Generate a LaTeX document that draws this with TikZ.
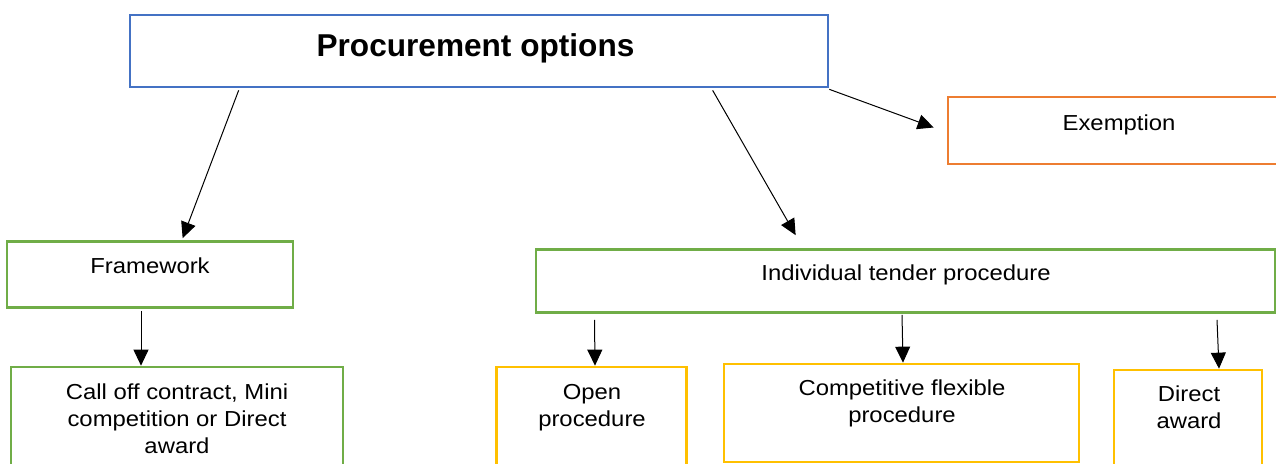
\documentclass[tikz,border=0pt]{standalone}
\usepackage{fontspec}
\setmainfont[FakeStretch=1.1]{Liberation Sans}
\newfontfamily\titlefont[FakeStretch=1.0]{Liberation Sans}
\usetikzlibrary{arrows.meta}
\definecolor{cblue}{HTML}{4472C4}
\definecolor{corange}{HTML}{ED7D31}
\definecolor{cgreen}{HTML}{70AD47}
\definecolor{cyellow}{HTML}{FFC000}
\begin{document}
\begin{tikzpicture}[x=1pt,y=-1pt,
  box/.style={draw=#1, line width=2.7pt, inner sep=0pt, fill=white},
  txt/.style={inner sep=0pt, align=center, font=\fontsize{21.7}{27}\selectfont},
  ttl/.style={inner sep=0pt, font=\titlefont\bfseries\fontsize{31.6}{36}\selectfont},
  arr/.style={-{Triangle[length=16pt,width=15pt]}, line width=1pt, black}]
\useasboundingbox (0,0) rectangle (1276,463);
\clip (0,0) rectangle (1276,463);
\fill[white] (0,0) rectangle (1276,463);
% boxes
\node[box=cblue, minimum width=698pt, minimum height=72pt] (title) at (479,51) {};
\node[box=corange, minimum width=342pt, minimum height=67pt] (exm) at (1119,130.5) {};
\node[box=cgreen, minimum width=286pt, minimum height=66pt] (fw) at (150,274.5) {};
\node[box=cgreen, minimum width=739pt, minimum height=63pt] (itp) at (905.5,281) {};
\node[box=cgreen, minimum width=332pt, minimum height=110pt] (call) at (177,422) {};
\node[box=cyellow, minimum width=190pt, minimum height=110pt] (open) at (591.5,422) {};
\node[box=cyellow, minimum width=355pt, minimum height=98pt] (comp) at (901.5,413) {};
\node[box=cyellow, minimum width=148pt, minimum height=110pt] (direct) at (1188,425) {};
% texts
\node[ttl, anchor=base] (titletxt) at (475.5,56.5) {Procurement options};
\node[txt, anchor=base] (exmtxt) at (1119,130) {Exemption};
\node[txt, anchor=base] (fwtxt) at (150,273) {Framework};
\node[txt, anchor=base] (itptxt) at (906,280.5) {Individual tender procedure};
\node[txt, anchor=north] (calltxt) at (177,384) {Call off contract, Mini\\competition or Direct\\award};
\node[txt, anchor=north] (opentxt) at (592,384) {Open\\procedure};
\node[txt, anchor=north] (comptxt) at (902,380) {Competitive flexible\\procedure};
\node[txt, anchor=north] (directtxt) at (1189,386) {Direct\\award};
% arrows
\draw[arr] ([xshift=110pt,yshift=-2pt]title.south west) -- ([xshift=177pt,yshift=2pt]fw.north west);
\draw[arr] ([xshift=584pt,yshift=-2pt]title.south west) -- ([xshift=261pt,yshift=13pt]itp.north west);
\draw[arr] ([yshift=-1pt]title.south east) -- ([xshift=-13pt,yshift=3pt]exm.west);
\draw[arr] ([xshift=-9pt,yshift=-2pt]fw.south) -- ([xshift=-36pt,yshift=0pt]call.north);
\draw[arr] ([xshift=-311pt,yshift=-6pt]itp.south) -- ([xshift=3.5pt,yshift=0pt]open.north);
\draw[arr] ([xshift=-3.5pt,yshift=-1pt]itp.south) -- ([xshift=1.5pt,yshift=0pt]comp.north);
\draw[arr] ([xshift=311.5pt,yshift=-6pt]itp.south) -- ([xshift=31pt,yshift=0pt]direct.north);
\end{tikzpicture}
\end{document}
